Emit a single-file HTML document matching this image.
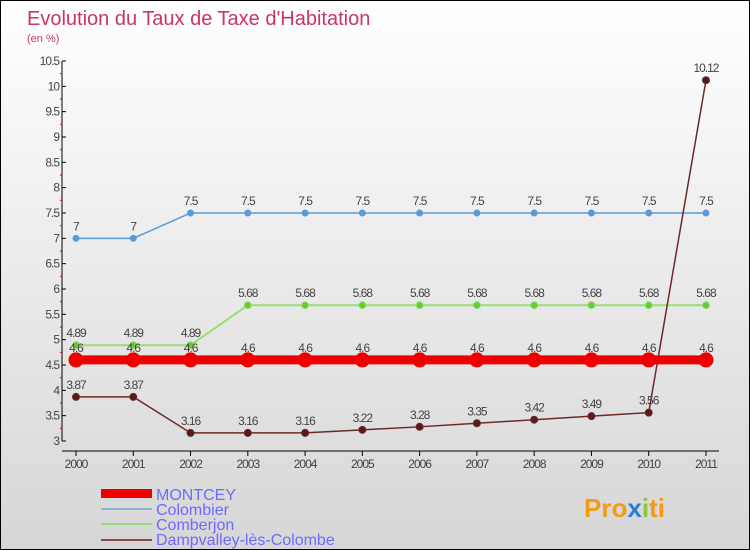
<!DOCTYPE html>
<html><head><meta charset="utf-8"><style>
body{margin:0}
#c{width:748px;height:548px;border:1px solid #000;background:linear-gradient(#fff,#d6d6d6);position:relative;overflow:hidden;font-family:"Liberation Sans",sans-serif}
svg{position:absolute;left:0;top:0}
</style></head><body>
<div id="c">
<svg id="s" width="750" height="550">
<text x="26" y="24" font-size="20" fill="#c8356a">Evolution du Taux de Taxe d'Habitation</text>
<text x="26" y="41" font-size="11" fill="#c8356a">(en %)</text>
<g id="legend">
<rect x="100" y="488" width="51" height="9" fill="#e00"/>
<text x="155" y="499" font-size="16" fill="#6b6bff">MONTCEY</text>
<line x1="100" y1="508" x2="151" y2="508" stroke="#8ab4d8" stroke-width="2"/>
<text x="155" y="514" font-size="16" fill="#6b6bff">Colombier</text>
<line x1="100" y1="523" x2="151" y2="523" stroke="#99dd77" stroke-width="2"/>
<text x="155" y="529" font-size="16" fill="#6b6bff">Comberjon</text>
<line x1="100" y1="539" x2="151" y2="539" stroke="#8a4a4a" stroke-width="2"/>
<text x="155" y="544" font-size="16" fill="#6b6bff">Dampvalley-lès-Colombe</text>
</g>
<text x="583" y="516" font-size="26" font-weight="bold" fill="#f39c12">Pro<tspan fill="#2a7fd4">x</tspan><tspan fill="#8cc63f">i</tspan><tspan fill="#f39c12">ti</tspan></text>
</svg>
</div>
<script>
const years=[2000,2001,2002,2003,2004,2005,2006,2007,2008,2009,2010,2011];
const montcey=[4.6,4.6,4.6,4.6,4.6,4.6,4.6,4.6,4.6,4.6,4.6,4.6];
const colombier=[7,7,7.5,7.5,7.5,7.5,7.5,7.5,7.5,7.5,7.5,7.5];
const comberjon=[4.89,4.89,4.89,5.68,5.68,5.68,5.68,5.68,5.68,5.68,5.68,5.68];
const dampvalley=[3.87,3.87,3.16,3.16,3.16,3.22,3.28,3.35,3.42,3.49,3.56,10.12];
const yTicks=[3,3.5,4,4.5,5,5.5,6,6.5,7,7.5,8,8.5,9,9.5,10,10.5];
const NS="http://www.w3.org/2000/svg";
const s=document.getElementById('s');
function X(i){return 75+i*57.27;}
function Y(v){return 440-(v-3)*50.67;}
function mk(t,a,p){const e=document.createElementNS(NS,t);for(const k in a)e.setAttribute(k,a[k]);(p||s).appendChild(e);return e;}
const ax=mk('g',{});


const ya=mk('line',{x1:61,y1:Y(10.5),x2:61,y2:440,stroke:'#000'},ax);


const xa=mk('line',{x1:61,y1:450,x2:718,y2:450,stroke:'#000'},ax);


yTicks.forEach(v=>{
 mk('line',{x1:61,y1:Y(v),x2:65,y2:Y(v),stroke:'#000'},ax);
 if(v<10.5) mk('line',{x1:59,y1:Y(v+0.25),x2:61,y2:Y(v+0.25),stroke:'#e00'},ax);
 const t=mk('text',{x:58,y:Y(v)+4,'font-size':12,fill:'#444','text-anchor':'end','letter-spacing':'-1'},ax);
 t.textContent=String(v);
 
 
});
years.forEach((y,i)=>{
 mk('line',{x1:X(i),y1:450,x2:X(i),y2:455,stroke:'#000'},ax);
 const t=mk('text',{x:X(i),y:467,'font-size':12,fill:'#444','text-anchor':'middle','letter-spacing':'-1'},ax);
 t.textContent=y;
 
 
});
function series(d,name,color,w,r,dot){
 const g=mk('g',{});
 
 
 const l=mk('polyline',{points:d.map((v,i)=>X(i)+','+Y(v)).join(' '),fill:'none',stroke:color,'stroke-width':w},g);
 
 
 d.forEach((v,i)=>{
  const c=mk('circle',{cx:X(i),cy:Y(v),r:r,fill:dot,stroke:color,'stroke-width':1},g);
  
  
  const t=mk('text',{x:X(i),y:Y(v)-8,'font-size':12,fill:'#444','text-anchor':'middle','letter-spacing':'-1'},g);
  t.textContent=String(v);
  
  
 });
}
series(colombier,'colombier','#5b9bd5',1.5,3,'#5b9bd5');
series(comberjon,'comberjon','#99dd77',2,3.5,'#66cc33');
series(dampvalley,'dampvalley','#6b2a2a',1.5,3.5,'#5a1a1a');
series(montcey,'montcey','#e00',9,7,'#e00');
</script>
</body></html>
